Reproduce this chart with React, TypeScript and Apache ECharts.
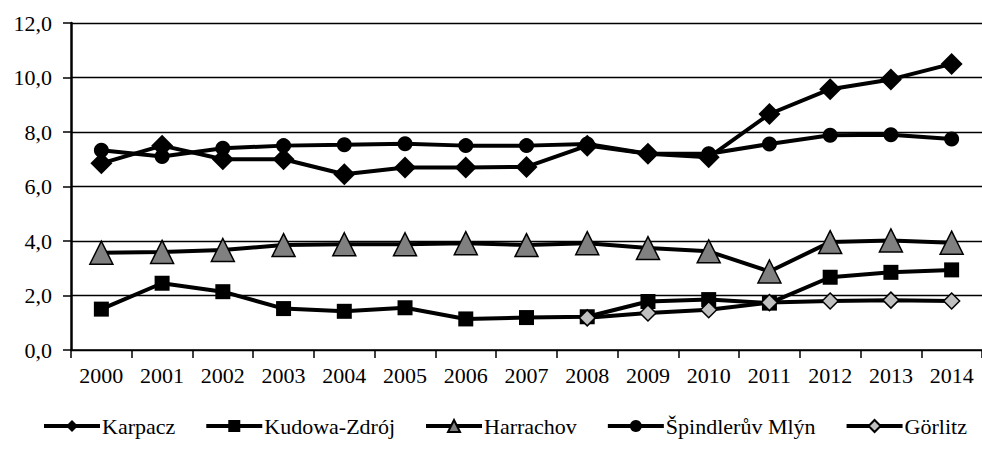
import React, { useEffect, useRef } from "react";
import * as echarts from "echarts";

const years = ["2000","2001","2002","2003","2004","2005","2006","2007","2008","2009","2010","2011","2012","2013","2014"];
const karpacz = [6.85, 7.5, 7.0, 7.0, 6.45, 6.7, 6.7, 6.72, 7.5, 7.2, 7.07, 8.66, 9.57, 9.93, 10.5];
const kudowa = [1.5, 2.45, 2.14, 1.52, 1.42, 1.55, 1.14, 1.19, 1.22, 1.78, 1.85, 1.72, 2.67, 2.85, 2.94];
const harrachov = [3.57, 3.6, 3.67, 3.85, 3.88, 3.88, 3.92, 3.85, 3.92, 3.74, 3.62, 2.88, 3.96, 4.02, 3.94];
const spindleruv = [7.33, 7.1, 7.4, 7.5, 7.53, 7.57, 7.5, 7.5, 7.56, 7.2, 7.2, 7.56, 7.88, 7.9, 7.74];
const gorlitz = [null, null, null, null, null, null, null, null, 1.18, 1.36, 1.48, 1.74, 1.8, 1.83, 1.8];

const FONT = "Liberation Serif";

export default function App() {
  const ref = useRef<HTMLDivElement>(null);
  useEffect(() => {
    const chart = echarts.init(ref.current!, null, { renderer: "svg" });
    const lineBase = (name: string, data: any[], symbol: string, size: number, fill: string, border: boolean) => ({
      name,
      type: "line",
      data,
      symbol,
      symbolSize: size,
      showAllSymbol: true,
      connectNulls: false,
      lineStyle: { color: "#000", width: 4 },
      itemStyle: { color: fill, borderColor: "#000", borderWidth: border ? 1.5 : 0 },
      emphasis: { disabled: true },
    });
    chart.setOption({
      animation: false,
      backgroundColor: "#fff",
      textStyle: { fontFamily: FONT },
      grid: { left: 71, right: -6, top: 23, bottom: 100 },
      xAxis: {
        type: "category",
        data: years,
        boundaryGap: true,
        axisLine: { lineStyle: { color: "#000", width: 1.5 } },
        axisTick: { show: true, length: 8, lineStyle: { color: "#000", width: 1.5 } },
        axisLabel: { color: "#000", fontSize: 22, fontFamily: FONT, margin: 14 },
        splitLine: { show: false },
      },
      yAxis: {
        type: "value",
        min: 0,
        max: 12,
        interval: 2,
        axisLine: { show: true, lineStyle: { color: "#000", width: 2.5 } },
        axisTick: { show: true, length: 8, lineStyle: { color: "#000", width: 1.5 } },
        axisLabel: {
          color: "#000",
          fontSize: 22,
          fontFamily: FONT,
          margin: 19,
          formatter: (v: number) => v.toFixed(1).replace(".", ","),
        },
        splitLine: { show: true, lineStyle: { color: "#000", width: 1.3 } },
      },
      legend: {
        left: 37,
        top: 410,
        itemWidth: 56,
        itemHeight: 15,
        itemGap: 29,
        lineStyle: { width: 4, color: "#000" },
        textStyle: { color: "#000", fontSize: 22, fontFamily: FONT, padding: [0, 0, 0, -3] },
        data: ["Karpacz", "Kudowa-Zdrój", "Harrachov", "Špindlerův Mlýn", "Görlitz"],
      },
      series: [
        lineBase("Karpacz", karpacz, "diamond", 22, "#000", false),
        lineBase("Kudowa-Zdrój", kudowa, "rect", 15, "#000", false),
        lineBase("Harrachov", harrachov, "triangle", 23, "#808080", true),
        lineBase("Špindlerův Mlýn", spindleruv, "circle", 15, "#000", false),
        lineBase("Görlitz", gorlitz, "diamond", 16, "#c0c0c0", true),
      ],
    });
    return () => chart.dispose();
  }, []);
  return <div ref={ref} style={{ width: 982, height: 450, position: "absolute", left: 0, top: 0 }} />;
}
